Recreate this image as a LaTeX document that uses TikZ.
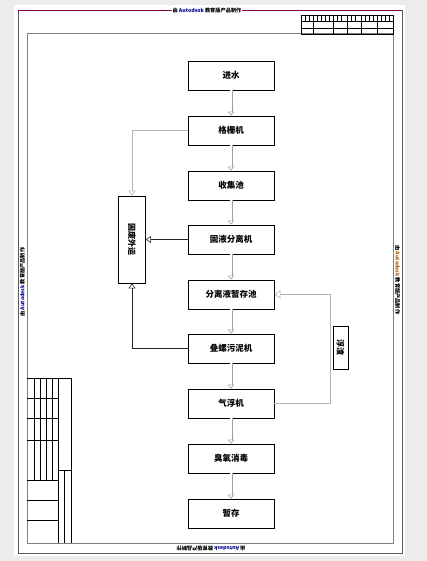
\documentclass[tikz,border=0pt]{standalone}
\usepackage{fontspec}
\newfontfamily\cjk{Noto Sans CJK SC}
\usetikzlibrary{positioning,arrows.meta,calc}

\tikzset{
  procbox/.style={draw=black, line width=0.8pt, fill=white, minimum width=86pt, minimum height=29pt, inner sep=1pt, font={\cjk\bfseries\fontsize{8.5}{10}\selectfont}},
  sidebox/.style={draw=black, line width=0.8pt, fill=white, inner sep=1pt, font={\cjk\bfseries\fontsize{8}{9}\selectfont}},
  flowarrow/.style={draw=gray!75, line width=0.6pt, double=white, double distance=1.8pt, -{Triangle[open,length=4pt,width=6.5pt]}},
  sidearrow/.style={draw=black!85, line width=0.6pt, -{Triangle[open,length=5pt,width=7pt]}},
  returnarrow/.style={draw=gray!60, line width=0.6pt, -{Triangle[open,length=6pt,width=8pt]}},
  stamp/.style={inner sep=0.5pt, font={\cjk\bfseries\fontsize{5.2}{6}\selectfont}},
  blockline/.style={draw=black, line width=0.5pt}
}

\begin{document}
\begin{tikzpicture}[x=1pt,y=-1pt]
% page and frame
\fill[gray!15] (0,0) rectangle (427,561);
\useasboundingbox (0,0) rectangle (427,561);
\fill[white] (14,5) rectangle (405,556);
\draw[gray!70!black, line width=0.8pt] (18,10.5) -- (18,553) -- (402,553) -- (402,10.5);
\draw[violet!70!red!80!black, line width=1pt] (18,10.5) -- (402,10.5);
\draw[gray, line width=0.6pt] (27,33) rectangle (393,543);

% title block, top right
\draw[blockline, line width=0.8pt] (301,15) rectangle (393,34);
\draw[blockline] (301,21) -- (393,21);
\draw[blockline] (301,28) -- (393,28);
\foreach \xc in {313,333,347,361,377}
  \draw[blockline] (\xc,15) -- (\xc,34);
\foreach \xc in {305,309,317,321,325,329,337,341,351,355,365,369,373,381,385,389}
  \draw[blockline] (\xc,15) -- (\xc,21);

% title block, bottom left
\draw[blockline, line width=0.8pt] (27,378) -- (71,378) -- (71,543);
\foreach \xc in {34,40,46,52}
  \draw[blockline] (\xc,378) -- (\xc,480);
\draw[blockline] (58,378) -- (58,543);
\foreach \yc in {398,418,440,480,500,520}
  \draw[blockline] (27,\yc) -- (58,\yc);
\draw[blockline] (58,470) -- (71,470);
\draw[blockline] (64,470) -- (64,543);

% Autodesk stamps
\node[stamp, fill=white] (stamptop) at (207,10.5) {由 \textcolor{blue!60!black}{Autodesk} 教育版产品制作};
\node[stamp, rotate=90] (stampleft) at (22.5,282) {由 \textcolor{blue!60!black}{Autodesk} 教育版产品制作};
\node[stamp, rotate=-90] (stampright) at (397.5,280) {由 \textcolor{orange!70!black}{Autodesk} 教育版产品制作};
\node[stamp, rotate=180] (stampbottom) at (211,548.5) {由 \textcolor{blue!60!black}{Autodesk} 教育版产品制作};

% process chain
\node[procbox] (inwater) at (231,75.5) {进水};
\node[procbox] (screen) at (231,130.5) {格栅机};
\node[procbox] (collect) at (231,185.5) {收集池};
\node[procbox] (separator) at (231,239.5) {固液分离机};
\node[procbox] (storage) at (231,294.5) {分离液暂存池};
\node[procbox] (stacker) at (231,348.5) {叠螺污泥机};
\node[procbox] (flotation) at (231,403.5) {气浮机};
\node[procbox] (ozone) at (231,458.5) {臭氧消毒};
\node[procbox] (hold) at (231,513.5) {暂存};

\draw[flowarrow] (inwater) -- (screen);
\draw[flowarrow] (screen) -- (collect);
\draw[flowarrow] (collect) -- (separator);
\draw[flowarrow] (separator) -- (storage);
\draw[flowarrow] (storage) -- (stacker);
\draw[flowarrow] (stacker) -- (flotation);
\draw[flowarrow] (flotation) -- (ozone);
\draw[flowarrow] (ozone) -- (hold);

% solid waste branch
\node[sidebox, minimum width=27pt, minimum height=87pt] (waste) at (132,239.5) {\rotatebox{-90}{固废外运}};
\draw[sidearrow, draw=gray!60] (screen.west) -| (waste.north);
\draw[sidearrow] (separator) -- (waste);
\draw[sidearrow] (stacker.west) -| (waste.south);

% scum return
\coordinate (retbottom) at (330,403.5);
\coordinate (rettop) at (330,294.5);
\draw[returnarrow] (flotation.east) -- (retbottom) -- (rettop) -- (storage.east);
\node[sidebox, minimum width=15pt, minimum height=43pt] (scum) at (340.5,347.5) {\rotatebox{-90}{浮渣}};
\end{tikzpicture}
\end{document}
